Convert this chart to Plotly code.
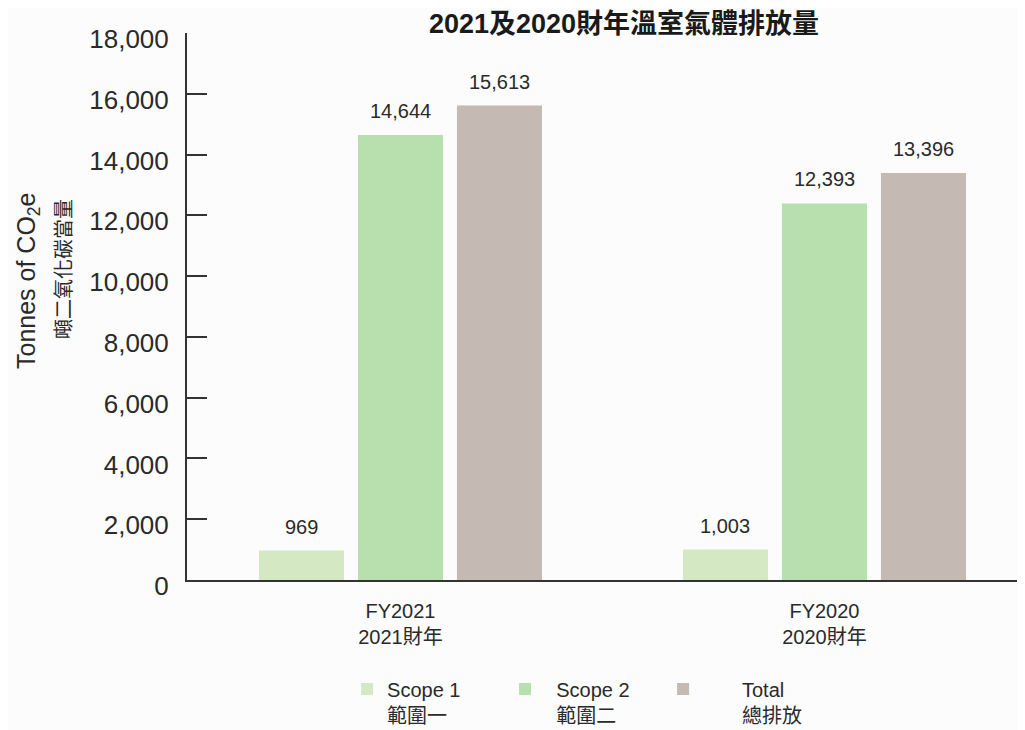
import plotly.graph_objects as go

categories = ["FY2021<br>2021財年", "FY2020<br>2020財年"]
NB2 = "\u00a0" * 2
NB7 = "\u00a0" * 7
series_names = ["Scope 1<br>範圍一",
                NB2 + "Scope 2<br>" + NB2 + "範圍二",
                NB7 + "Total<br>" + NB7 + "總排放"]
scope1 = [969, 1003]
scope2 = [14644, 12393]
total = [15613, 13396]
value_labels = [["969", "1,003"], ["14,644", "12,393"], ["15,613", "13,396"]]
y_ticks = [0, 2000, 4000, 6000, 8000, 10000, 12000, 14000, 16000, 18000]

colors = ["#d4e9c3", "#b8dfae", "#c5b9b4"]
series_values = [scope1, scope2, total]

FONT = "Liberation Sans, Noto Sans CJK TC, sans-serif"
TXT = "#2a2a2a"

fig = go.Figure()
for name, vals, col in zip(series_names, series_values, colors):
    fig.add_trace(go.Bar(
        x=categories, y=vals, name=name,
        marker=dict(color=col, line=dict(width=0)),
        hoverinfo="x+y",
    ))

bar_step = 0.2335
annotations = []
for j, labels in enumerate(value_labels):
    for i, lab in enumerate(labels):
        annotations.append(dict(
            x=i + (j - 1) * bar_step, y=series_values[j][i], xref="x", yref="y",
            text=lab, showarrow=False, yanchor="bottom", yshift=11,
            font=dict(size=20, color=TXT, family=FONT),
        ))

annotations.append(dict(
    x=-0.190, y=0.548, xref="paper", yref="paper", textangle=-90,
    text="Tonnes of CO<sub>2</sub>e", showarrow=False,
    xanchor="center", yanchor="middle",
    font=dict(size=25, color=TXT, family=FONT),
))
annotations.append(dict(
    x=-0.146, y=0.568, xref="paper", yref="paper", textangle=-90,
    text="噸二氧化碳當量", showarrow=False,
    xanchor="center", yanchor="middle",
    font=dict(size=20, color=TXT, family=FONT),
))

fig.update_layout(
    width=1017, height=722,
    margin=dict(l=179, r=0, t=25, b=150, autoexpand=False),
    paper_bgcolor="#fcfcfc", plot_bgcolor="rgba(0,0,0,0)",
    barmode="group", bargap=0.2995, bargroupgap=0.141,
    title=dict(text="<b>2021及2020財年溫室氣體排放量</b>", x=0.6057, xanchor="center",
               y=0.978, yanchor="middle", xref="container", yref="container",
               font=dict(size=27, color="#1a1a1a", family=FONT)),
    font=dict(family=FONT, color=TXT),
    showlegend=True,
    legend=dict(orientation="h", x=0.191, xanchor="left", y=-0.1636, yanchor="top",
                font=dict(size=20, color=TXT, family=FONT),
                entrywidth=113, entrywidthmode="pixels", valign="top",
                bgcolor="rgba(0,0,0,0)", traceorder="normal"),
    annotations=annotations,
)

fig.update_xaxes(
    type="category", range=[-0.5035, 1.473],
    showline=True, linecolor="#333333", linewidth=2,
    ticks="", showgrid=False, zeroline=False,
    tickfont=dict(size=20, color=TXT, family=FONT),
    ticklabelstandoff=12, automargin=False,
)
fig.update_yaxes(
    range=[0, 18000], tickvals=y_ticks, tickformat=",",
    showline=True, linecolor="#333333", linewidth=2,
    ticks="inside", ticklen=20, tickwidth=2, tickcolor="#333333",
    showgrid=False, zeroline=False,
    tickfont=dict(size=26, color=TXT, family=FONT),
    ticklabelstandoff=11, ticklabelshift=6, automargin=False,
)

fig.write_html("out.html")
